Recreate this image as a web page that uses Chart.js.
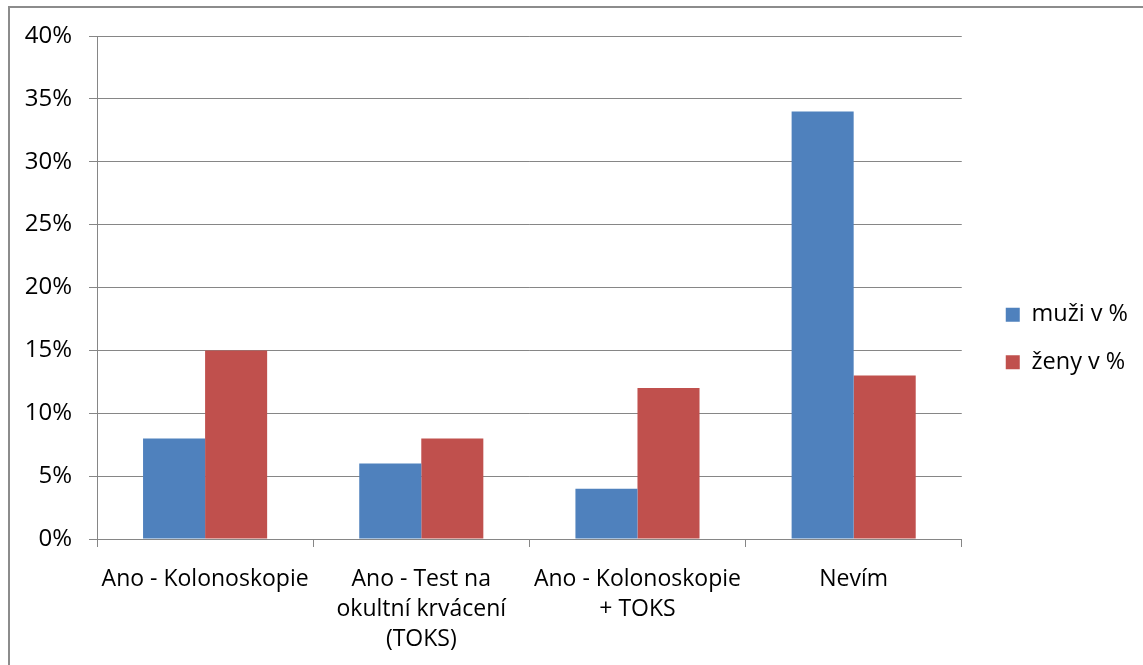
<!DOCTYPE html>
<html>
<head>
<meta charset="utf-8">
<script src="https://cdn.jsdelivr.net/npm/chart.js@4"></script>
<style>
  html, body { margin: 0; padding: 0; background: #fff; overflow: hidden; }
  #frame { position: absolute; left: 8px; top: 6px; width: 1300px; height: 800px;
           border-left: 2px solid #8c8c8c; border-top: 2px solid #8c8c8c; }
  #wrap { position: absolute; left: 0; top: 0; width: 1143px; height: 665px; }
</style>
</head>
<body>
<div id="frame"></div>
<div id="wrap"><canvas id="c" width="1143" height="665"></canvas></div>
<script>
// Survey answers: categories and percentages per group
const categories = [
  'Ano - Kolonoskopie',
  ['Ano - Test na', 'okultní krvácení', '(TOKS)'],
  ['Ano - Kolonoskopie', '+ TOKS'],
  'Nevím'
];
const muzi = [8, 6, 4, 34];
const zeny = [15, 8, 12, 13];
const seriesNames = ['muži v %', 'ženy v %'];
const yTicks = [0, 5, 10, 15, 20, 25, 30, 35, 40];

const FONT = "'Open Sans', 'Liberation Sans', sans-serif";
const GRID = '#868686';

// Nudge the legend block a little up and to the right of its default slot
const legendNudge = {
  id: 'legendNudge',
  afterLayout(chart) {
    const lg = chart.legend;
    if (!lg) return;
    const dx = 20, dy = -12;
    lg.left += dx; lg.right += dx;
    lg.top += dy; lg.bottom += dy;
  }
};

new Chart(document.getElementById('c'), {
  type: 'bar',
  data: {
    labels: categories,
    datasets: [
      { label: seriesNames[0], data: muzi, backgroundColor: '#4F81BD' },
      { label: seriesNames[1], data: zeny, backgroundColor: '#C0504D' }
    ]
  },
  plugins: [legendNudge],
  options: {
    responsive: false,
    animation: false,
    layout: { padding: { left: 0, top: 36, right: 25, bottom: 0 } },
    datasets: { bar: { categoryPercentage: 0.574, barPercentage: 1.0 } },
    plugins: {
      tooltip: { enabled: false },
      legend: {
        position: 'right',
        labels: {
          color: '#000',
          font: { family: FONT, size: 23.5 },
          boxWidth: 14, boxHeight: 14,
          padding: 24
        }
      }
    },
    scales: {
      x: {
        grid: { drawOnChartArea: false, drawTicks: true, tickLength: 8, color: GRID, offset: true },
        border: { color: GRID, width: 1 },
        ticks: { color: '#000', font: { family: FONT, size: 23, lineHeight: 1.3 }, padding: 18, maxRotation: 0, autoSkip: false },
        afterFit: (s) => { s.height = 126; }
      },
      y: {
        min: 0, max: 40,
        afterBuildTicks: (s) => { s.ticks = yTicks.map(v => ({ value: v })); },
        grid: { color: GRID, tickLength: 8, drawTicks: true },
        border: { color: GRID, width: 1 },
        ticks: { color: '#000', font: { family: FONT, size: 24 }, padding: 17, callback: (v) => v + '%' },
        afterFit: (s) => { s.width = 97; }
      }
    }
  }
});
</script>
</body>
</html>
